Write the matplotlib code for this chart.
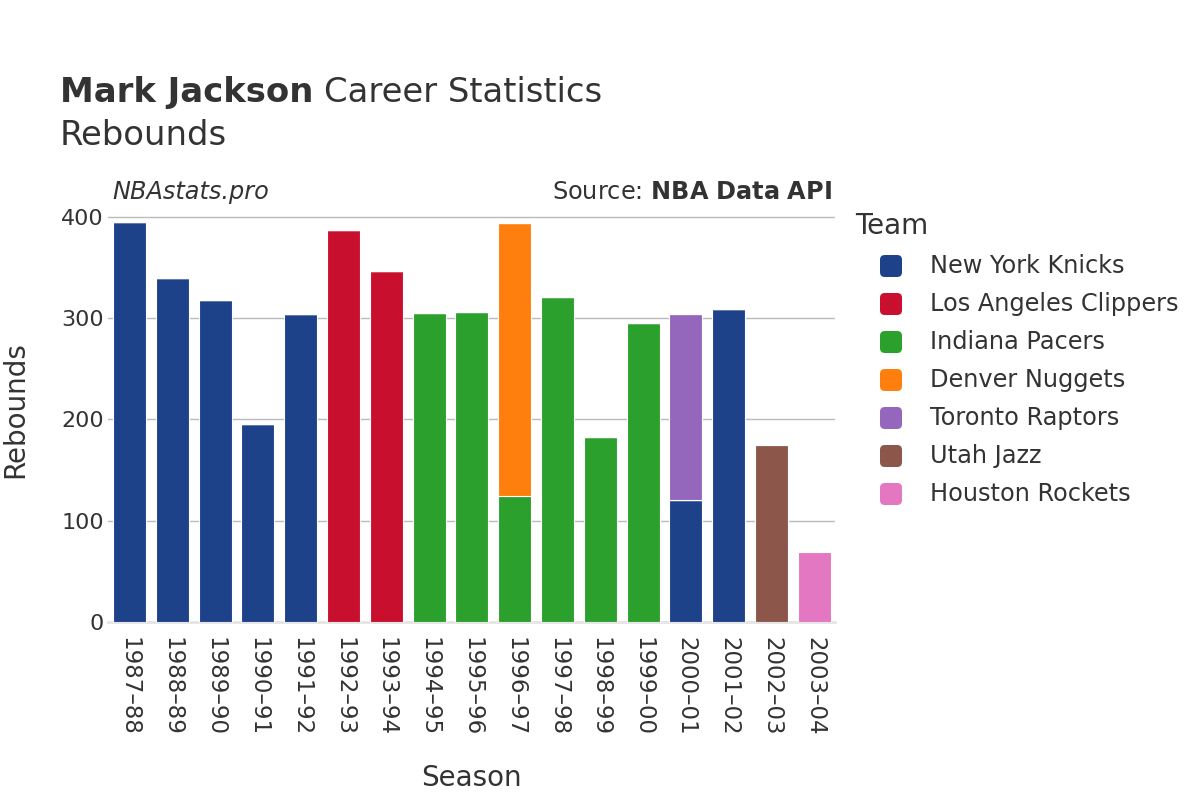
import matplotlib.pyplot as plt
from matplotlib.patches import FancyBboxPatch
import numpy as np

seasons = ['1987–88', '1988–89', '1989–90', '1990–91', '1991–92', '1992–93',
           '1993–94', '1994–95', '1995–96', '1996–97', '1997–98', '1998–99',
           '1999–00', '2000–01', '2001–02', '2002–03', '2003–04']

teams = ['New York Knicks', 'Los Angeles Clippers', 'Indiana Pacers',
         'Denver Nuggets', 'Toronto Raptors', 'Utah Jazz', 'Houston Rockets']
colores = ['#1d428a', '#c8102e', '#2ca02c', '#ff7f0e', '#9467bd', '#8c564b', '#e377c2']

# rebotes por temporada y equipo (0 = no jugó ahí)
knicks   = [395, 340, 318, 196, 304, 0, 0, 0, 0, 0, 0, 0, 0, 120, 309, 0, 0]
clippers = [0, 0, 0, 0, 0, 387, 347, 0, 0, 0, 0, 0, 0, 0, 0, 0, 0]
pacers   = [0, 0, 0, 0, 0, 0, 0, 305, 306, 124, 321, 183, 295, 0, 0, 0, 0]
nuggets  = [0, 0, 0, 0, 0, 0, 0, 0, 0, 270, 0, 0, 0, 0, 0, 0, 0]
raptors  = [0, 0, 0, 0, 0, 0, 0, 0, 0, 0, 0, 0, 0, 184, 0, 0, 0]
jazz     = [0, 0, 0, 0, 0, 0, 0, 0, 0, 0, 0, 0, 0, 0, 0, 175, 0]
rockets  = [0, 0, 0, 0, 0, 0, 0, 0, 0, 0, 0, 0, 0, 0, 0, 0, 69]

series = [knicks, clippers, pacers, nuggets, raptors, jazz, rockets]

texto = '#333333'
fig = plt.figure(figsize=(12, 8), dpi=100)
ax = fig.add_axes([0.09, 0.2225, 0.6058, 0.5215])

x = np.arange(len(seasons))
base = np.zeros(len(seasons))
for valores, color in zip(series, colores):
    valores = np.array(valores, dtype=float)
    ax.bar(x, valores, width=0.77, bottom=base, color=color,
           edgecolor='white', linewidth=0.8, zorder=3)
    base += valores

ax.set_xlim(-0.5, 16.48)
ax.set_ylim(0, 412)
ax.set_yticks([0, 100, 200, 300, 400])
ax.grid(axis='y', color='#bbbbbb', linewidth=1, zorder=0)
ax.set_xticks(x)
ax.set_xticklabels(seasons, rotation=-90, fontsize=16.5, color=texto)
ax.tick_params(axis='y', labelsize=16, labelcolor=texto, length=0, pad=3)
ax.tick_params(axis='x', length=0, pad=11)
for lado in ['top', 'right', 'left']:
    ax.spines[lado].set_visible(False)
ax.spines['bottom'].set_color('#e5e5e5')
ax.spines['bottom'].set_linewidth(2)

fig.text(0.0125, 0.4875, 'Rebounds', rotation=90, fontsize=20, color=texto,
         ha='center', va='center')
fig.text(0.393, 0.0275, 'Season', fontsize=20, color=texto, ha='center', va='center')

# titulo: parte en negrita y parte normal en la misma linea
t1 = fig.text(0.05, 0.8725, 'Mark Jackson', fontsize=24.4, fontweight='bold',
              color=texto, ha='left', va='baseline')
fig.canvas.draw()
bb = t1.get_window_extent()
fig.text(bb.x1 / 1200 + 0.009, 0.8725, 'Career Statistics', fontsize=24.4,
         color=texto, ha='left', va='baseline')
fig.text(0.05, 0.819, 'Rebounds', fontsize=24.4, color=texto, ha='left', va='baseline')

fig.text(0.094, 0.76, 'NBAstats.pro', fontsize=17.3, style='italic', color=texto,
         ha='left', va='center')
fig.text(0.693, 0.76, 'Source: $\\bf{NBA\\ Data\\ API}$', fontsize=17.3, color=texto,
         ha='right', va='center')

# leyenda dibujada a mano
fig.text(855 / 1200, 1 - 226 / 800, 'Team', fontsize=20, color=texto,
         ha='left', va='center')
for i, (equipo, color) in enumerate(zip(teams, colores)):
    yc = 266 + 38 * i
    caja = FancyBboxPatch((880 / 1200, 1 - (yc + 11) / 800), 22 / 1200, 22 / 800,
                          boxstyle='round,pad=0,rounding_size=0.004',
                          mutation_aspect=1.5, transform=fig.transFigure,
                          facecolor=color, edgecolor='none')
    fig.patches.append(caja)
    fig.text(930 / 1200, 1 - yc / 800, equipo, fontsize=17.3, color=texto,
             ha='left', va='center')

fig.savefig('out.png', dpi=100)
